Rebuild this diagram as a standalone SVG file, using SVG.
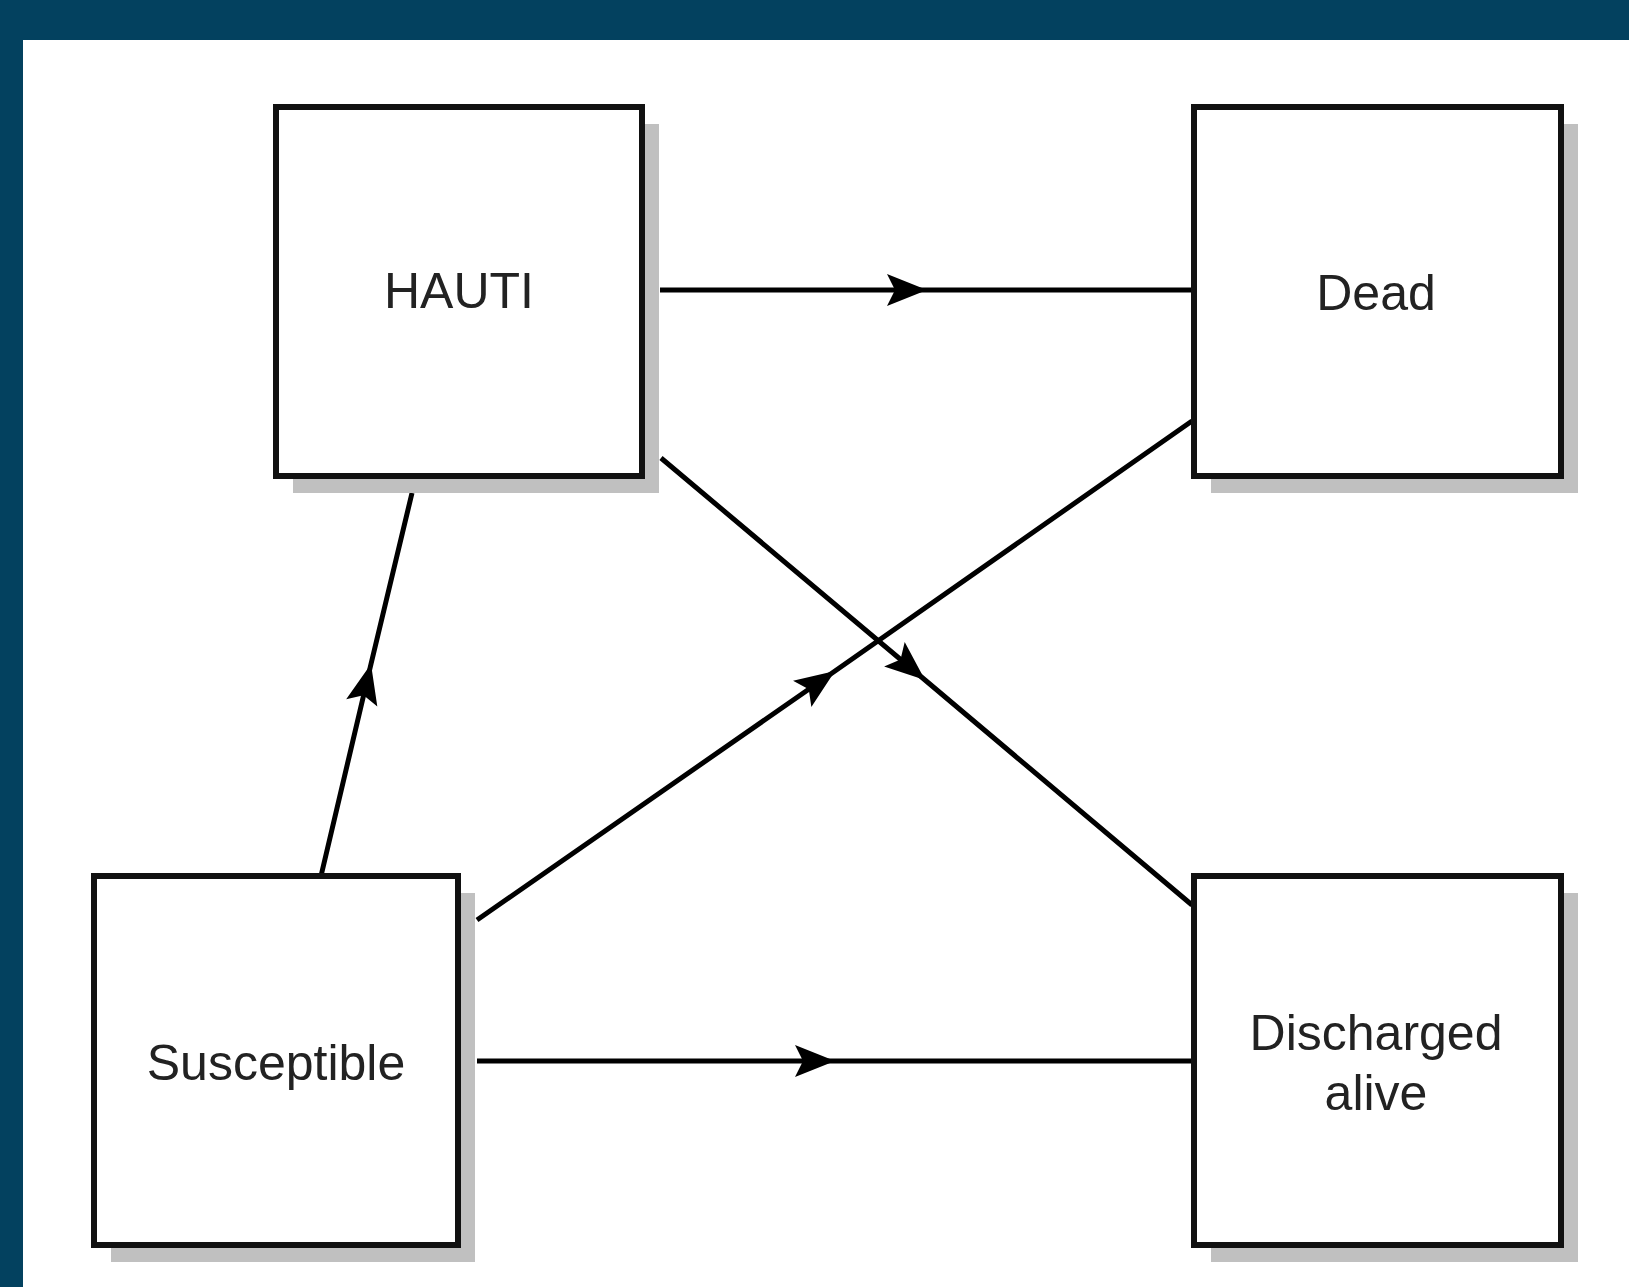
<svg xmlns="http://www.w3.org/2000/svg" width="1629" height="1287" viewBox="0 0 1629 1287">
  <style>
    .band { fill: #03415f; }
    .shadow { fill: #c0c0c0; stroke: none; }
    .box { fill: #ffffff; stroke: #111111; stroke-width: 6; }
    .label { font-family: "Liberation Sans", Arial, sans-serif; font-size: 50px; fill: #222222; text-anchor: middle; }
    .conn { fill: none; stroke: #000000; stroke-width: 5; marker-mid: url(#arrow); }
  </style>
  <defs>
    <marker id="arrow" markerUnits="userSpaceOnUse" viewBox="-42 -18 44 36" markerWidth="44" markerHeight="36" refX="0" refY="0" orient="auto">
      <path d="M0,0 L-40,-16 L-32,0 L-40,16 Z" fill="#000000"/>
    </marker>
  </defs>
  <rect x="0" y="0" width="1629" height="1287" fill="#ffffff"/>
  <rect class="band" x="0" y="0" width="1629" height="40"/>
  <rect class="band" x="0" y="0" width="23" height="1287"/>

  <g id="connectors">
    <polyline class="conn" points="660,290 927,290 1192,290"/>
    <polyline class="conn" points="477,1061 835,1061 1192,1061"/>
    <polyline class="conn" points="321,876 371,664 412,493"/>
    <polyline class="conn" points="477,920 835,671 1192,421"/>
    <polyline class="conn" points="661,458 925,680 1192,905"/>
  </g>

  <g id="hauti">
    <rect class="shadow" x="293" y="124" width="366" height="369"/>
    <rect class="box" x="276" y="107" width="366" height="369"/>
    <text class="label" x="459" y="308">HAUTI</text>
  </g>
  <g id="dead">
    <rect class="shadow" x="1211" y="124" width="367" height="369"/>
    <rect class="box" x="1194" y="107" width="367" height="369"/>
    <text class="label" x="1376" y="310">Dead</text>
  </g>
  <g id="susceptible">
    <rect class="shadow" x="111" y="893" width="364" height="369"/>
    <rect class="box" x="94" y="876" width="364" height="369"/>
    <text class="label" x="276" y="1080">Susceptible</text>
  </g>
  <g id="discharged-alive">
    <rect class="shadow" x="1211" y="893" width="367" height="369"/>
    <rect class="box" x="1194" y="876" width="367" height="369"/>
    <text class="label" x="1376" y="1050">Discharged</text>
    <text class="label" x="1376" y="1110">alive</text>
  </g>
</svg>
